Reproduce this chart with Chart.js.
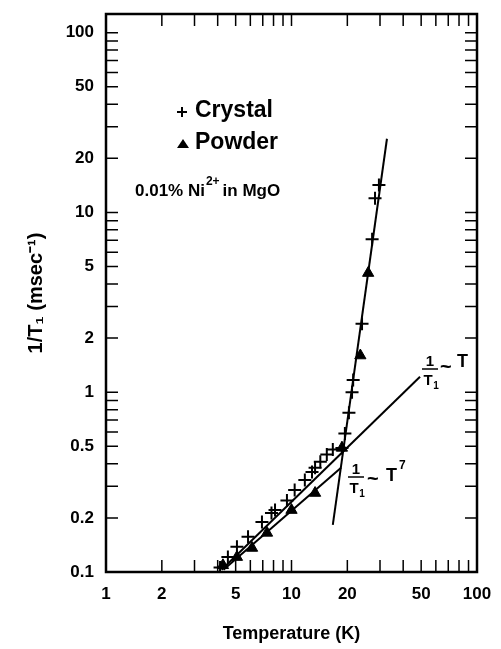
<!DOCTYPE html>
<html>
<head>
<meta charset="utf-8">
<script src="https://cdn.jsdelivr.net/npm/chart.js@4/dist/chart.umd.min.js"></script>
<style>
    html, body { margin: 0; padding: 0; background: #fff; }
    #wrap { width: 501px; height: 649px; }
</style>
</head>
<body>
<div id="wrap"><canvas id="relaxChart" width="501" height="649"></canvas></div>
<script>
// Temperature (K) and 1/T1 (msec^-1)
const crystalT = [4.12, 4.54, 5.08, 5.83, 6.93, 7.8, 8.15, 9.45, 10.4, 11.8, 12.9, 13.4, 14.3, 15.5, 16.7, 18.7, 19.4, 20.4, 21.2, 21.5, 24.0, 27.2, 28.2, 29.6];
const crystalRate = [0.106, 0.121, 0.138, 0.157, 0.19, 0.213, 0.221, 0.25, 0.286, 0.325, 0.36, 0.38, 0.41, 0.45, 0.48, 0.49, 0.59, 0.77, 1.0, 1.17, 2.4, 7.1, 12.0, 14.2];
const powderT = [4.27, 5.08, 6.13, 7.38, 10.0, 13.4, 18.7, 23.5, 25.9];
const powderRate = [0.109, 0.121, 0.136, 0.165, 0.221, 0.275, 0.49, 1.6, 4.6];

// fitted lines (end points)
const linearFitT = [4.2, 49.3];
const linearFitRate = [0.103, 1.22];
const powderFitT = [4.3, 18.5];
const powderFitRate = [0.103, 0.38];
const steepFitT = [16.7, 32.7];
const steepFitRate = [0.183, 25.7];

// axis ticks
const xTicks = [1, 2, 3, 4, 5, 6, 7, 8, 9, 10, 20, 30, 40, 50, 60, 70, 80, 90, 100];
const xLabels = [1, 2, 5, 10, 20, 50, 100];
const yTicks = [0.1, 0.2, 0.3, 0.4, 0.5, 0.6, 0.7, 0.8, 0.9, 1, 2, 3, 4, 5, 6, 7, 8, 9, 10, 20, 30, 40, 50, 60, 70, 80, 90, 100];
const yLabels = [0.1, 0.2, 0.5, 1, 2, 5, 10, 20, 50, 100];

const FONT = '"Liberation Sans", Arial, sans-serif';
const pairs = (xs, ys) => xs.map((x, i) => ({ x: x, y: ys[i] }));
const near = (v, list) => list.some(l => Math.abs(v - l) / l < 1e-6);

// inward ticks on all four sides + frame
const frameTicks = {
    id: 'frameTicks',
    afterDraw(chart) {
        const { ctx, chartArea: a, scales } = chart;
        const len = 12;
        ctx.save();
        ctx.strokeStyle = '#000';
        ctx.lineWidth = 1.5;
        ctx.beginPath();
        scales.x.ticks.forEach(t => {
            const px = scales.x.getPixelForValue(t.value);
            ctx.moveTo(px, a.bottom); ctx.lineTo(px, a.bottom - len);
            ctx.moveTo(px, a.top); ctx.lineTo(px, a.top + len);
        });
        scales.y.ticks.forEach(t => {
            const py = scales.y.getPixelForValue(t.value);
            ctx.moveTo(a.left, py); ctx.lineTo(a.left + len, py);
            ctx.moveTo(a.right, py); ctx.lineTo(a.right - len, py);
        });
        ctx.stroke();
        ctx.lineWidth = 2.5;
        ctx.strokeRect(a.left, a.top, a.right - a.left, a.bottom - a.top);
        ctx.restore();
    }
};

// legend, sample note and the two slope labels
const notes = {
    id: 'notes',
    afterDraw(chart) {
        const { ctx } = chart;
        const ds = chart.data.datasets;
        ctx.save();
        ctx.fillStyle = '#000';
        ctx.strokeStyle = '#000';
        ctx.textBaseline = 'alphabetic';

        // legend
        ctx.lineWidth = 2;
        ctx.beginPath();
        ctx.moveTo(177, 112); ctx.lineTo(187, 112);
        ctx.moveTo(182, 107); ctx.lineTo(182, 117);
        ctx.stroke();
        ctx.beginPath();
        ctx.moveTo(183, 139); ctx.lineTo(189, 148); ctx.lineTo(177, 148);
        ctx.closePath(); ctx.fill();
        ctx.font = 'bold 23px ' + FONT;
        ctx.fillText(ds[0].label, 195, 117);
        ctx.fillText(ds[1].label, 195, 149);

        // sample note
        ctx.font = 'bold 17px ' + FONT;
        let x = 135;
        ctx.fillText('0.01% Ni', x, 196);
        x += ctx.measureText('0.01% Ni').width + 1;
        ctx.font = 'bold 12px ' + FONT;
        ctx.fillText('2+', x, 185);
        x += ctx.measureText('2+').width + 3;
        ctx.font = 'bold 17px ' + FONT;
        ctx.fillText('in MgO', x, 196);

        // fraction helper: 1 over T1
        const frac = (cx, cy) => {
            ctx.textAlign = 'center';
            ctx.font = 'bold 15px ' + FONT;
            ctx.fillText('1', cx, cy - 3);
            ctx.lineWidth = 1.5;
            ctx.beginPath();
            ctx.moveTo(cx - 8, cy); ctx.lineTo(cx + 8, cy);
            ctx.stroke();
            ctx.fillText('T', cx - 2, cy + 16);
            ctx.font = 'bold 10px ' + FONT;
            ctx.fillText('1', cx + 6, cy + 20);
            ctx.textAlign = 'left';
        };

        frac(430, 369);
        ctx.font = 'bold 20px ' + FONT;
        ctx.fillText('~', 440, 373);
        ctx.font = 'bold 18px ' + FONT;
        ctx.fillText('T', 457, 367);

        frac(356, 477);
        ctx.font = 'bold 20px ' + FONT;
        ctx.fillText('~', 367, 485);
        ctx.font = 'bold 18px ' + FONT;
        ctx.fillText('T', 386, 481);
        ctx.font = 'bold 12px ' + FONT;
        ctx.fillText('7', 399, 469);
        ctx.restore();
    }
};

const lineStyle = {
    type: 'line',
    borderColor: '#000',
    borderWidth: 2,
    pointRadius: 0,
    fill: false
};

new Chart(document.getElementById('relaxChart'), {
    type: 'scatter',
    data: {
        datasets: [
            {
                label: 'Crystal',
                data: pairs(crystalT, crystalRate),
                pointStyle: 'cross',
                pointRadius: 6.5,
                borderColor: '#000',
                borderWidth: 2
            },
            {
                label: 'Powder',
                data: pairs(powderT, powderRate),
                pointStyle: 'triangle',
                pointRadius: 6.5,
                backgroundColor: '#000',
                borderColor: '#000',
                borderWidth: 1
            },
            { ...lineStyle, label: 'T fit', data: pairs(linearFitT, linearFitRate) },
            { ...lineStyle, label: 'powder fit', data: pairs(powderFitT, powderFitRate) },
            { ...lineStyle, label: 'T7 fit', data: pairs(steepFitT, steepFitRate) }
        ]
    },
    options: {
        responsive: false,
        animation: false,
        layout: { padding: { top: 14, right: 24, left: 0, bottom: 0 } },
        plugins: { legend: { display: false }, tooltip: { enabled: false } },
        scales: {
            x: {
                type: 'logarithmic',
                min: 1,
                max: 100,
                afterBuildTicks: s => { s.ticks = xTicks.map(v => ({ value: v })); },
                afterFit: s => { s.height = 77; s.paddingLeft = 0; s.paddingRight = 0; },
                grid: { drawOnChartArea: false, drawTicks: false },
                border: { display: false },
                ticks: {
                    autoSkip: false,
                    maxRotation: 0,
                    padding: 12,
                    color: '#000',
                    font: { family: FONT, size: 17, weight: 'bold' },
                    callback: v => near(v, xLabels) ? String(v) : ''
                },
                title: {
                    display: true,
                    text: 'Temperature (K)',
                    color: '#000',
                    font: { family: FONT, size: 18, weight: 'bold' },
                    padding: { top: 6 }
                }
            },
            y: {
                type: 'logarithmic',
                min: 0.1,
                max: 127,
                afterBuildTicks: s => { s.ticks = yTicks.map(v => ({ value: v })); },
                afterFit: s => { s.width = 106; s.paddingTop = 0; s.paddingBottom = 0; },
                grid: { drawOnChartArea: false, drawTicks: false },
                border: { display: false },
                ticks: {
                    autoSkip: false,
                    padding: 12,
                    color: '#000',
                    font: { family: FONT, size: 17, weight: 'bold' },
                    callback: v => near(v, yLabels) ? String(v) : ''
                },
                title: {
                    display: true,
                    text: '1/T₁ (msec⁻¹)',
                    color: '#000',
                    font: { family: FONT, size: 20, weight: 'bold' },
                    padding: { top: 24, bottom: 0 }
                }
            }
        }
    },
    plugins: [frameTicks, notes]
});
</script>
</body>
</html>
